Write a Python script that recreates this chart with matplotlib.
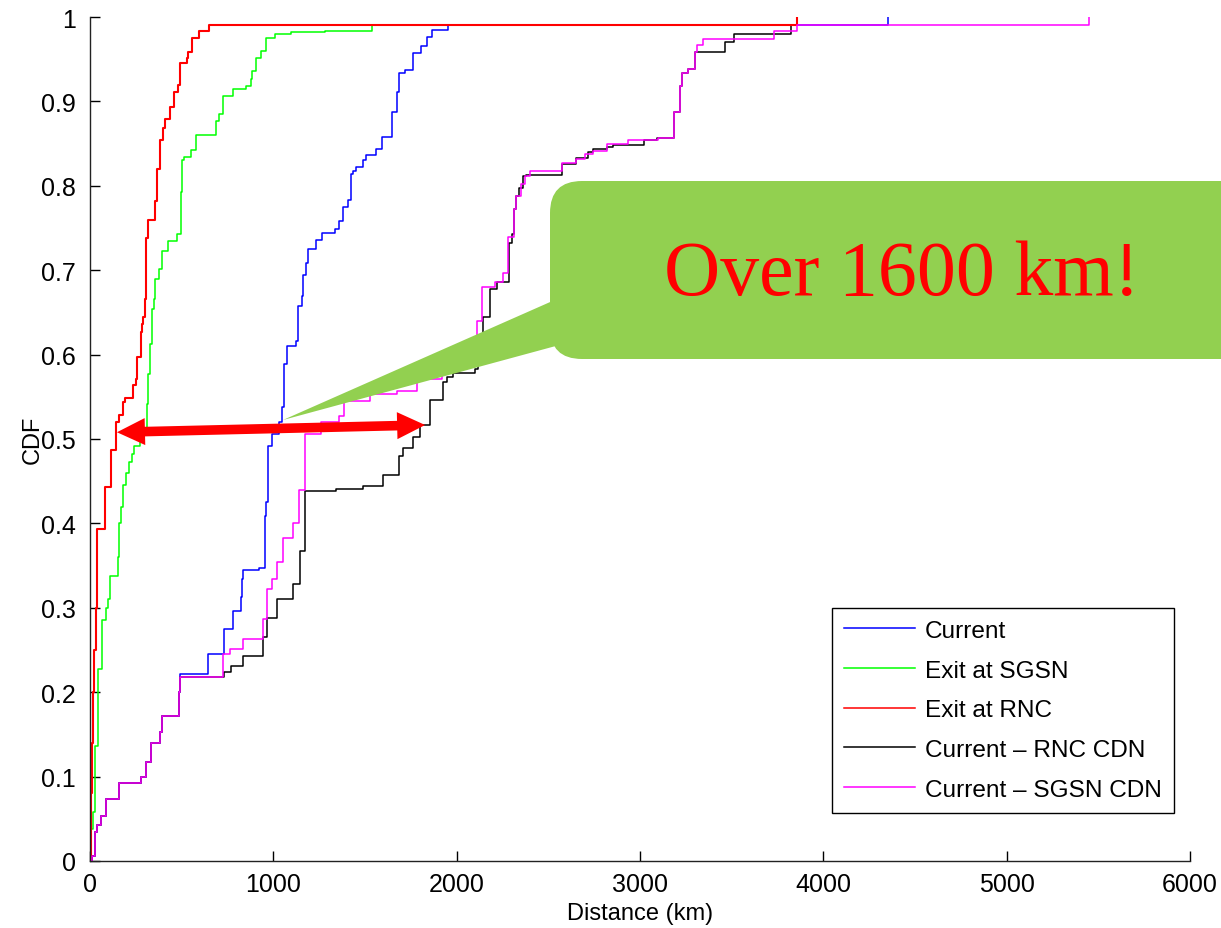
import numpy as np
import matplotlib
matplotlib.use("Agg")
import matplotlib.pyplot as plt
from matplotlib.patches import FancyBboxPatch, Polygon

plt.rcParams['font.family'] = ['Liberation Sans', 'DejaVu Sans']

# ---- CDF step data: distance (km) where each level starts, and the CDF level ----
x_current = [0, 10, 27, 36, 58, 87, 158, 278, 305, 333, 382, 391, 486, 491, 645, 731, 782, 822, 827, 836,
             922, 955, 960, 973, 991, 1030, 1045, 1060, 1075, 1124, 1133, 1155, 1164, 1178, 1191, 1231, 1264,
             1336, 1360, 1382, 1409, 1422, 1433, 1451, 1491, 1505, 1559, 1591, 1645, 1673, 1687, 1718, 1764,
             1804, 1836, 1867, 1955, 4350]
y_current = [0, 0.006, 0.034, 0.043, 0.0536, 0.074, 0.093, 0.099, 0.117, 0.140, 0.153, 0.1714, 0.20, 0.2216,
             0.245, 0.275, 0.2966, 0.313, 0.334, 0.345, 0.347, 0.409, 0.425, 0.492, 0.506, 0.520, 0.5375, 0.589,
             0.6098, 0.616, 0.658, 0.670, 0.6946, 0.709, 0.725, 0.736, 0.744, 0.749, 0.758, 0.775, 0.783, 0.814,
             0.817, 0.822, 0.830, 0.837, 0.844, 0.858, 0.888, 0.911, 0.934, 0.9375, 0.957, 0.966, 0.976, 0.985,
             0.99, 1.0]

x_sgsn = [0, 5, 15, 27, 45, 64, 87, 100, 110, 150, 160, 168, 178, 195, 213, 227, 242, 270, 296, 309,
          318, 327, 340, 349, 356, 375, 394, 425, 476, 494, 500, 515, 549, 578, 686, 704, 727, 782, 851, 878,
          885, 905, 931, 958, 1009, 1095, 1282, 1540, 3855]
y_sgsn = [0, 0.038, 0.058, 0.136, 0.227, 0.285, 0.30, 0.31, 0.338, 0.36, 0.40, 0.42, 0.445, 0.46, 0.473,
          0.482, 0.492, 0.50, 0.508, 0.541, 0.577, 0.6126, 0.654, 0.666, 0.689, 0.701, 0.723, 0.735, 0.743,
          0.793, 0.830, 0.834, 0.842, 0.860, 0.877, 0.885, 0.906, 0.915, 0.918, 0.926, 0.936, 0.952, 0.960,
          0.975, 0.98, 0.982, 0.983, 0.99, 1.0]

x_rnc = [0, 3, 7, 12, 18, 24, 30, 36, 82, 113, 140, 158, 182, 191, 236, 249, 258, 278, 283, 291,
         300, 304, 307, 316, 355, 366, 382, 396, 409, 438, 456, 482, 491, 529, 532, 558, 595, 649, 3855]
y_rnc = [0, 0.03, 0.08, 0.14, 0.20, 0.25, 0.30, 0.393, 0.443, 0.487, 0.520, 0.528, 0.544, 0.549, 0.564,
         0.571, 0.597, 0.627, 0.636, 0.645, 0.666, 0.70, 0.738, 0.759, 0.782, 0.82, 0.854, 0.868, 0.879,
         0.893, 0.911, 0.920, 0.946, 0.952, 0.959, 0.975, 0.984, 0.99, 1.0]

x_rnc_cdn = [0, 10, 27, 36, 58, 87, 158, 278, 305, 333, 382, 391, 486, 491, 731, 767, 836, 942, 967, 1018,
             1109, 1145, 1173, 1342, 1491, 1596, 1687, 1709, 1764, 1800, 1855, 1924, 1945, 1982, 2100, 2115,
             2145, 2182, 2218, 2288, 2300, 2315, 2324, 2338, 2364, 2380, 2573, 2651, 2718, 2745, 2818, 2855,
             3022, 3091, 3188, 3218, 3229, 3261, 3299, 3465, 3511, 3824, 3855]
y_rnc_cdn = [0, 0.006, 0.034, 0.043, 0.0536, 0.074, 0.093, 0.099, 0.117, 0.140, 0.153, 0.1714, 0.20, 0.2175,
             0.2235, 0.2306, 0.2425, 0.265, 0.2875, 0.310, 0.328, 0.3676, 0.4387, 0.4408, 0.444, 0.4577,
             0.4795, 0.4893, 0.502, 0.5166, 0.5465, 0.568, 0.574, 0.578, 0.583, 0.590, 0.644, 0.678, 0.6856,
             0.732, 0.743, 0.7725, 0.788, 0.797, 0.812, 0.8128, 0.826, 0.833, 0.8397, 0.8436, 0.846, 0.848,
             0.8546, 0.857, 0.887, 0.918, 0.934, 0.9384, 0.958, 0.9708, 0.98, 0.99, 1.0]

x_sgsn_cdn = [0, 10, 27, 36, 58, 87, 158, 278, 305, 333, 382, 391, 486, 491, 727, 765, 836, 942, 967, 994,
              1018, 1055, 1109, 1142, 1173, 1260, 1360, 1385, 1527, 1673, 1782, 1918, 1925, 2109, 2136, 2209,
              2255, 2282, 2315, 2324, 2349, 2373, 2400, 2573, 2651, 2700, 2744, 2818, 2937, 3100, 3188, 3218,
              3229, 3261, 3299, 3313, 3344, 3731, 3855, 5447]
y_sgsn_cdn = [0, 0.006, 0.034, 0.043, 0.0536, 0.074, 0.093, 0.099, 0.117, 0.140, 0.153, 0.1714, 0.20, 0.2175,
              0.245, 0.251, 0.2636, 0.2867, 0.322, 0.334, 0.354, 0.3823, 0.401, 0.44, 0.506, 0.520, 0.5275,
              0.545, 0.553, 0.557, 0.571, 0.585, 0.60, 0.64, 0.6796, 0.6864, 0.697, 0.739, 0.7725, 0.788,
              0.802, 0.812, 0.818, 0.827, 0.832, 0.8377, 0.8416, 0.8495, 0.8546, 0.857, 0.887, 0.918, 0.934,
              0.9384, 0.958, 0.9668, 0.974, 0.984, 0.99, 1.0]

series_labels = ["Current", "Exit at SGSN", "Exit at RNC", "Current \u2013 RNC CDN", "Current \u2013 SGSN CDN"]
series_colors = ["#0000ff", "#00ff00", "#ff0000", "#000000", "#ff00ff"]
series_z = [2.0, 2.1, 2.3, 2.2, 2.4]
series_lw = [1.1, 1.1, 1.5, 1.1, 1.1]

x_ticks = [0, 1000, 2000, 3000, 4000, 5000, 6000]
y_ticks = [0, 0.1, 0.2, 0.3, 0.4, 0.5, 0.6, 0.7, 0.8, 0.9, 1.0]
y_tick_labels = ["0", "0.1", "0.2", "0.3", "0.4", "0.5", "0.6", "0.7", "0.8", "0.9", "1"]

# gap highlighted by the double arrow (km, CDF)
gap_start = (147, 0.508)
gap_end = (1828, 0.5166)
callout_text = "Over 1600 km!"

W, H, DPI = 1221, 929, 100
fig = plt.figure(figsize=(W / DPI, H / DPI), dpi=DPI)
ax = fig.add_axes([90 / W, 67 / H, 1100 / W, 844 / H])

series = [(x_current, y_current), (x_sgsn, y_sgsn), (x_rnc, y_rnc),
          (x_rnc_cdn, y_rnc_cdn), (x_sgsn_cdn, y_sgsn_cdn)]
for (xs, ys), lab, col, z, lw in zip(series, series_labels, series_colors, series_z, series_lw):
    ax.step(xs, ys, where="post", color=col, lw=lw, label=lab, zorder=z)

ax.set_xlim(0, 6000)
ax.set_ylim(0, 1)
ax.set_xticks(x_ticks)
ax.set_xticklabels([str(v) for v in x_ticks])
ax.set_yticks(y_ticks)
ax.set_yticklabels(y_tick_labels)
ax.tick_params(direction="in", length=7, width=1, labelsize=18)
ax.tick_params(axis="x", pad=8)
ax.tick_params(axis="y", pad=10)
for side in ("top", "right"):
    ax.spines[side].set_visible(False)
for side in ("left", "bottom"):
    ax.spines[side].set_linewidth(1.0)
    ax.spines[side].set_color("#222222")
ax.set_xlabel("Distance (km)", fontsize=17, labelpad=4)
ax.set_ylabel("CDF", fontsize=17, labelpad=-2)

leg = ax.legend(loc="lower right", bbox_to_anchor=(0.9855, 0.0569), borderaxespad=0,
                fontsize=17.6, handlelength=2.9, handletextpad=0.42, labelspacing=0.72,
                borderpad=0.5, fancybox=False, framealpha=1, edgecolor="black")
leg.get_frame().set_linewidth(1.0)
for handle in leg.get_lines():
    handle.set_linewidth(1.1)

# ---- callout: rounded green box with a pointer tail (inch coordinates) ----
tr = fig.dpi_scale_trans


def px(xp, yp):
    return (xp / DPI, (H - yp) / DPI)


green = "#92d050"
box_x0, box_y0 = px(550, 360)
box_x1, box_y1 = px(1300, 182)
box = FancyBboxPatch((box_x0, box_y0), box_x1 - box_x0, box_y1 - box_y0,
                     boxstyle="round,pad=0,rounding_size=0.32", transform=tr,
                     facecolor=green, edgecolor="none", zorder=10, clip_on=False)
fig.patches.append(box)
tail = Polygon([px(600, 281), px(283, 421), px(600, 335)], closed=True, transform=tr,
               facecolor=green, edgecolor="none", zorder=10)
fig.patches.append(tail)
fig.text(*px(902, 295), callout_text, transform=tr, ha="center", va="baseline",
         fontsize=56, color="#ff0000", family=["Liberation Serif", "DejaVu Serif"], zorder=11)

# ---- double-headed red arrow between the two curves ----
fig.canvas.draw()
p0 = np.array(ax.transData.transform(gap_start)) / DPI
p1 = np.array(ax.transData.transform(gap_end)) / DPI
u = (p1 - p0) / np.linalg.norm(p1 - p0)
n = np.array([-u[1], u[0]])
HL, HW, hw = 0.28, 0.135, 0.048
pts = [p0, p0 + u * HL + n * HW, p0 + u * HL + n * hw, p1 - u * HL + n * hw, p1 - u * HL + n * HW,
       p1, p1 - u * HL - n * HW, p1 - u * HL - n * hw, p0 + u * HL - n * hw, p0 + u * HL - n * HW]
arrow = Polygon(pts, closed=True, transform=tr, facecolor="#ff0000", edgecolor="none", zorder=12)
fig.patches.append(arrow)

fig.savefig("out.png", dpi=DPI)
